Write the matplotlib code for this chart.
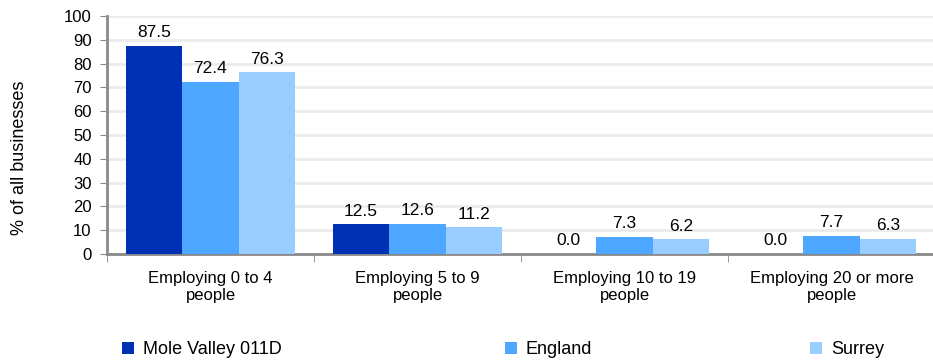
import matplotlib.pyplot as plt
import numpy as np

plt.rcParams['font.family'] = ['Liberation Sans', 'DejaVu Sans']

categories = ['Employing 0 to 4\npeople', 'Employing 5 to 9\npeople',
              'Employing 10 to 19\npeople', 'Employing 20 or more\npeople']
series_names = ['Mole Valley 011D', 'England', 'Surrey']
mole_valley = [87.5, 12.5, 0.0, 0.0]
england = [72.4, 12.6, 7.3, 7.7]
surrey = [76.3, 11.2, 6.2, 6.3]
colors = ['#0030B4', '#4DA6FF', '#99CCFF']

fig = plt.figure(figsize=(9.33, 3.61), dpi=100)
ax = fig.add_axes([107 / 933, 107 / 361, 828 / 933, 238 / 361])

x = np.arange(len(categories))
width = 0.273
bars = []
for i, (vals, name) in enumerate(zip([mole_valley, england, surrey], series_names)):
    b = ax.bar(x + (i - 1) * width, vals, width, color=colors[i], label=name, zorder=3)
    bars.append(b)
    for xi, v in zip(x + (i - 1) * width, vals):
        ax.annotate('%.1f' % v, (xi, v), xytext=(0, 4), textcoords='offset points',
                    ha='center', va='bottom', fontsize=12.5)

ax.set_xlim(-0.5, len(categories) - 0.5)
ax.set_ylim(0, 100)
ax.set_yticks(range(0, 101, 10))
ax.tick_params(axis='y', labelsize=12, length=5, color='#898989', pad=6)
ax.set_xticks(np.arange(len(categories) + 1) - 0.5, minor=True)
ax.set_xticks(x)
ax.set_xticklabels(categories, fontsize=12)
ax.tick_params(axis='x', which='major', length=0, pad=12)
ax.tick_params(axis='x', which='minor', length=6, color='#898989')
ax.grid(axis='y', color='#EBEBEB', linewidth=2, zorder=0)
for s in ['top', 'right']:
    ax.spines[s].set_visible(False)
for s in ['left', 'bottom']:
    ax.spines[s].set_color('#898989')
    ax.spines[s].set_linewidth(2)

fig.text(20 / 933, 1 - 158 / 361, '% of all businesses', rotation=90,
         ha='center', va='center', fontsize=13)

# legend entries spread out across the bottom
leg_x = [115, 498, 803]
for b, name, lx in zip(bars, series_names, leg_x):
    fig.legend([b], [name], loc='center left', bbox_to_anchor=(lx / 933, 1 - 350 / 361),
               frameon=False, fontsize=13, handlelength=0.65, handleheight=0.65,
               handletextpad=0.5, borderaxespad=0)

fig.savefig('out.png', dpi=100)
